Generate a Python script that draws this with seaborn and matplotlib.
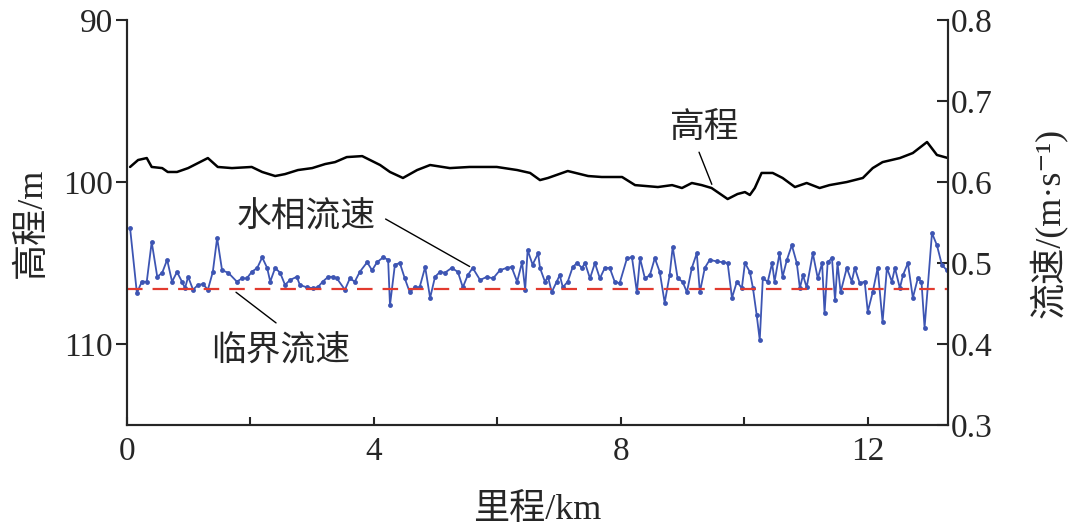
import matplotlib
matplotlib.use('Agg')
import matplotlib.pyplot as plt
import seaborn as sns

# 高程 (m)
elev_km = [0.05, 0.18, 0.32, 0.40, 0.57, 0.66, 0.81, 0.99, 1.31, 1.47, 1.70, 2.02, 2.19,
           2.40, 2.56, 2.77, 3.00, 3.21, 3.37, 3.56, 3.81, 4.10, 4.26, 4.47, 4.70, 4.91,
           5.23, 5.55, 5.99, 6.32, 6.53, 6.69, 6.82, 7.14, 7.47, 7.69, 8.02, 8.23, 8.60,
           8.83, 8.99, 9.15, 9.31, 9.47, 9.73, 9.89, 10.01, 10.09, 10.17, 10.28, 10.46,
           10.62, 10.82, 11.01, 11.22, 11.38, 11.66, 11.92, 12.08, 12.24, 12.52, 12.73,
           12.96, 13.12, 13.30]
elev_m = [99.07, 98.64, 98.52, 99.07, 99.14, 99.38, 99.38, 99.14, 98.52, 99.07, 99.14,
          99.07, 99.38, 99.63, 99.51, 99.26, 99.14, 98.89, 98.77, 98.46, 98.40, 98.95,
          99.38, 99.75, 99.26, 98.95, 99.14, 99.07, 99.07, 99.26, 99.44, 99.88, 99.75,
          99.32, 99.63, 99.69, 99.69, 100.19, 100.31, 100.19, 100.37, 100.06, 100.19,
          100.37, 101.05, 100.74, 100.62, 100.80, 100.37, 99.44, 99.44, 99.75, 100.31,
          100.06, 100.37, 100.19, 100.00, 99.75, 99.14, 98.77, 98.52, 98.21, 97.53,
          98.33, 98.52]

# 水相流速 (m/s)
vel_km = [0.05, 0.16, 0.24, 0.32, 0.40, 0.49, 0.57, 0.65, 0.73, 0.81, 0.89, 0.94, 0.99,
          1.07, 1.15, 1.23, 1.31, 1.39, 1.46, 1.54, 1.64, 1.78, 1.86, 1.94, 2.02, 2.11,
          2.19, 2.27, 2.32, 2.40, 2.48, 2.56, 2.64, 2.75, 2.80, 2.91, 3.01, 3.09, 3.17,
          3.26, 3.34, 3.40, 3.53, 3.61, 3.69, 3.77, 3.89, 3.97, 4.05, 4.15, 4.23, 4.26,
          4.34, 4.42, 4.50, 4.58, 4.66, 4.74, 4.83, 4.91, 4.99, 5.07, 5.15, 5.26, 5.36,
          5.44, 5.52, 5.60, 5.72, 5.83, 5.93, 6.04, 6.15, 6.23, 6.32, 6.40, 6.45, 6.49,
          6.57, 6.66, 6.69, 6.77, 6.82, 6.88, 6.96, 7.01, 7.06, 7.14, 7.22, 7.29, 7.37,
          7.42, 7.50, 7.58, 7.66, 7.74, 7.82, 7.90, 7.98, 8.10, 8.18, 8.26, 8.31, 8.39,
          8.47, 8.55, 8.63, 8.71, 8.79, 8.84, 8.92, 9.00, 9.07, 9.15, 9.23, 9.28, 9.36,
          9.44, 9.55, 9.65, 9.73, 9.80, 9.88, 9.96, 10.01, 10.09, 10.14, 10.20, 10.25,
          10.30, 10.38, 10.45, 10.49, 10.57, 10.62, 10.69, 10.77, 10.85, 10.90, 10.95,
          11.01, 11.11, 11.19, 11.26, 11.30, 11.35, 11.42, 11.47, 11.51, 11.56, 11.66,
          11.74, 11.79, 11.87, 11.95, 12.00, 12.08, 12.16, 12.24, 12.31, 12.39, 12.44,
          12.52, 12.57, 12.65, 12.73, 12.81, 12.87, 12.92, 13.04, 13.12, 13.20, 13.28]
vel_ms = [0.543, 0.463, 0.477, 0.477, 0.526, 0.483, 0.488, 0.504, 0.477, 0.489, 0.477,
          0.469, 0.483, 0.467, 0.473, 0.474, 0.467, 0.489, 0.531, 0.491, 0.488, 0.477,
          0.481, 0.481, 0.489, 0.494, 0.507, 0.494, 0.477, 0.494, 0.488, 0.473, 0.479,
          0.483, 0.473, 0.470, 0.469, 0.470, 0.477, 0.483, 0.483, 0.481, 0.467, 0.481,
          0.477, 0.489, 0.501, 0.491, 0.501, 0.507, 0.504, 0.448, 0.498, 0.500, 0.481,
          0.464, 0.470, 0.470, 0.495, 0.457, 0.483, 0.489, 0.488, 0.494, 0.489, 0.470,
          0.485, 0.494, 0.479, 0.483, 0.481, 0.491, 0.494, 0.495, 0.477, 0.501, 0.467,
          0.516, 0.498, 0.512, 0.494, 0.477, 0.483, 0.464, 0.477, 0.485, 0.470, 0.477,
          0.495, 0.500, 0.494, 0.500, 0.481, 0.500, 0.481, 0.494, 0.494, 0.477, 0.475,
          0.506, 0.507, 0.464, 0.506, 0.481, 0.485, 0.506, 0.489, 0.451, 0.485, 0.520,
          0.481, 0.477, 0.464, 0.494, 0.512, 0.464, 0.494, 0.504, 0.502, 0.501, 0.500,
          0.457, 0.477, 0.469, 0.500, 0.489, 0.469, 0.436, 0.405, 0.481, 0.477, 0.500,
          0.477, 0.512, 0.483, 0.504, 0.522, 0.500, 0.469, 0.485, 0.470, 0.512, 0.481,
          0.500, 0.438, 0.501, 0.506, 0.454, 0.500, 0.464, 0.494, 0.477, 0.494, 0.475,
          0.477, 0.440, 0.464, 0.494, 0.427, 0.494, 0.477, 0.494, 0.469, 0.485, 0.500,
          0.457, 0.481, 0.477, 0.420, 0.537, 0.522, 0.498, 0.491]

# 临界流速 (m/s)
crit_vel = 0.468

x_ticks = [0, 4, 8, 12]
elev_ticks = [90, 100, 110]
vel_ticks = [0.3, 0.4, 0.5, 0.6, 0.7, 0.8]

sns.set_style('ticks')
plt.rcParams['font.family'] = ['Liberation Serif', 'Noto Sans CJK SC', 'DejaVu Serif']
plt.rcParams['axes.linewidth'] = 1.5

fig = plt.figure(figsize=(10.8, 5.27), dpi=100)
ax1 = fig.add_axes([0.1176, 0.1935, 0.7602, 0.7685])
ax2 = ax1.twinx()

sns.lineplot(x=elev_km, y=elev_m, ax=ax1, color='black', linewidth=1.8, legend=False)
sns.lineplot(x=vel_km, y=vel_ms, ax=ax2, color='#3d55b3', linewidth=1.3,
             marker='o', markersize=3.5, markeredgewidth=0, legend=False)
ax2.axhline(crit_vel, color='#e23a2e', linewidth=1.6, linestyle=(0, (7, 4.5)))

ax1.set_xlim(0, 13.3)
ax1.set_ylim(115, 90)
ax2.set_ylim(0.3, 0.8)

ax1.set_xticks(x_ticks)
ax1.set_xticks([2, 6, 10], minor=True)
ax1.set_yticks(elev_ticks)
ax2.set_yticks(vel_ticks)
ax2.set_yticklabels([f'{v:.1f}' for v in vel_ticks])

ax1.tick_params(axis='x', which='both', direction='in', length=6, width=1.5,
                labelsize=24, pad=8)
ax1.tick_params(axis='y', direction='out', length=8, width=1.5, labelsize=24, pad=2)
ax2.tick_params(axis='y', direction='in', length=8, width=1.5, labelsize=24, pad=2)

for ax in (ax1, ax2):
    ax.spines['top'].set_visible(False)
    ax.spines['right'].set_linewidth(1.5)

ax1.set_xlabel('里程/km', fontsize=26, labelpad=20)
ax1.set_ylabel('高程/m', fontsize=26, labelpad=10)
ax2.set_ylabel('流速/(m·s⁻¹)', fontsize=26, labelpad=26)

# labels with leader lines
ax1.text(9.36, 96.7, '高程', fontsize=25, ha='center', va='center')
ax1.annotate('', xy=(9.49, 100.3), xytext=(9.25, 98.0),
             arrowprops=dict(arrowstyle='-', color='black', lw=1))
ax1.text(2.91, 102.2, '水相流速', fontsize=25, ha='center', va='center')
ax1.annotate('', xy=(5.59, 105.3), xytext=(4.15, 102.2),
             arrowprops=dict(arrowstyle='-', color='black', lw=1))
ax1.text(2.48, 110.5, '临界流速', fontsize=25, ha='center', va='center')
ax1.annotate('', xy=(1.73, 106.7), xytext=(2.45, 108.8),
             arrowprops=dict(arrowstyle='-', color='black', lw=1))

fig.savefig('out.png', dpi=100)
